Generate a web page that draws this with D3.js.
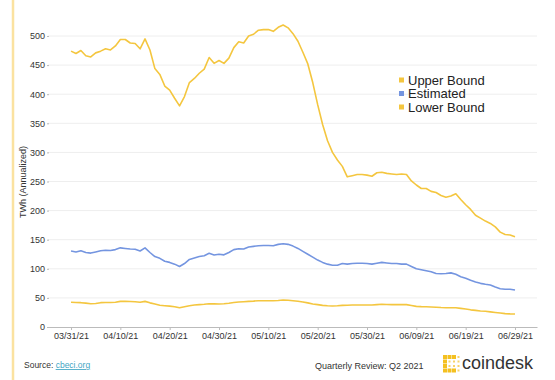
<!doctype html>
<html lang="en">
<head>
<meta charset="UTF-8">
<title>Bitcoin electricity consumption Q2 2021</title>
<style>
  body { margin: 0; background: #fff; font-family: "Liberation Sans", Arial, sans-serif; }
  svg { display: block; }
  .grid line { stroke: #eeeeee; stroke-width: 1; }
  .axis text { fill: #333; font-size: 9px; }
  .axis path, .axis line { stroke: #bbb; }
  .line { fill: none; stroke-width: 1.6px; stroke-linejoin: round; }
</style>
</head>
<body>
<svg width="555" height="380"></svg>
<script src="https://d3js.org/d3.v7.min.js"></script>
<script>
// daily values, 03/31/21 .. 06/29/21 (TWh annualized)
const upperBound = [474, 470, 475, 466, 464, 471, 474, 478, 476, 483,
  494, 494, 488, 487, 478, 495, 476, 444, 434, 414,
  407, 393, 380, 396, 420, 427, 436, 443, 463, 453,
  458, 453, 462, 480, 490, 488, 500, 503, 510, 511,
  511, 508, 515, 519, 514, 504, 491, 472, 452, 420,
  382, 348, 320, 300, 287, 276, 258, 260, 262, 262,
  261, 259, 265, 266, 264, 263, 262, 263, 262, 251,
  244, 238, 238, 233, 231, 226, 223, 225, 229, 219,
  210, 202, 192, 187, 182, 178, 172, 163, 159, 158, 155];
const estimated = [130.6, 129, 131, 128, 127, 129, 131, 132, 131.5, 133,
  136, 135, 134, 133.5, 130.6, 136, 128, 121, 118, 113,
  111, 108, 104, 109, 116, 118.5, 121, 122.5, 126.6, 123.7,
  125, 124, 128, 133, 134.5, 134, 137.5, 138.6, 139.7, 140,
  140, 139.7, 142, 143, 142, 139, 135, 130, 125, 120,
  115, 111, 108, 106, 106, 109, 108, 109, 109.5, 109.5,
  109, 108, 109.5, 111, 110, 109, 109, 108, 108, 104,
  100, 98.5, 96.7, 95, 92, 91.6, 92, 93, 90.5, 86.4,
  83.7, 80.2, 77.3, 75, 73.4, 72.2, 68.7, 65.8, 64.8, 64.8, 63.6];
const lowerBound = [42.4, 42, 41.8, 41, 40, 40.5, 41.8, 42, 42.2, 42.4,
  44, 44, 43.8, 43.5, 42.4, 44, 41.5, 39.5, 37.5, 36.6,
  35.8, 34.9, 33.2, 34.9, 36.5, 37.8, 38.5, 39, 40, 39.8,
  39.5, 40, 40.7, 42, 43, 43.5, 44, 44.5, 45.2, 45.2,
  45.2, 45.2, 45.5, 46.4, 46, 45.2, 44.2, 43, 41.5, 39.5,
  38.4, 37.2, 36.5, 36, 36.5, 37.2, 37.5, 37.8, 37.8, 37.8,
  37.8, 37.8, 38.5, 39, 38.7, 38.5, 38.5, 38.5, 38.5, 37,
  35.5, 35, 34.7, 34.4, 34, 33.5, 33.2, 33.2, 33.2, 32,
  30.8, 29.5, 28.5, 27.5, 27, 26, 25, 24, 23, 22.5, 22.3];
const startDate = new Date(2021, 2, 31);
const dates = upperBound.map((_, i) => d3.timeDay.offset(startDate, i));
const yTicks = [0, 50, 100, 150, 200, 250, 300, 350, 400, 450, 500];
const xTickDates = dates.filter((_, i) => i % 10 === 0);

const series = [
  { name: "Upper Bound", values: upperBound, color: "#f4c63f" },
  { name: "Estimated", values: estimated, color: "#7495e0" },
  { name: "Lower Bound", values: lowerBound, color: "#f4c63f" }
];

const svg = d3.select("svg");

// light yellow border on the left
svg.append("line")
  .attr("x1", 13).attr("x2", 13).attr("y1", 0).attr("y2", 380)
  .attr("stroke", "#fbe2a0").attr("stroke-width", 2.5);

const x = d3.scaleTime()
  .domain([new Date(2021, 2, 26, 8), new Date(2021, 6, 3, 11)])
  .range([48, 537]);
const y = d3.scaleLinear().domain([0, 500]).range([327, 36]);

// gridlines
svg.append("g").attr("class", "grid")
  .selectAll("line").data(yTicks.slice(1)).join("line")
  .attr("x1", 48).attr("x2", 537)
  .attr("y1", d => y(d)).attr("y2", d => y(d));

// y axis (labels and tiny ticks only)
const yAxis = svg.append("g").attr("class", "axis")
  .attr("transform", "translate(49,0)")
  .call(d3.axisLeft(y).tickValues(yTicks).tickSize(2).tickPadding(2));
yAxis.select(".domain").remove();
yAxis.selectAll("line").attr("stroke", "#ccc");

// x axis
const xAxis = svg.append("g").attr("class", "axis")
  .attr("transform", "translate(0,327)")
  .call(d3.axisBottom(x).tickValues(xTickDates)
    .tickFormat(d3.timeFormat("%m/%d/%y")).tickSize(3).tickPadding(3).tickSizeOuter(0));

svg.append("text")
  .attr("transform", "translate(26,182) rotate(-90)")
  .attr("text-anchor", "middle")
  .attr("font-size", 9).attr("fill", "#333")
  .text("TWh (Annualized)");

// lines
const line = d3.line()
  .x((d, i) => x(dates[i]))
  .y(d => y(d));

svg.append("g").selectAll("path").data(series).join("path")
  .attr("class", "line")
  .attr("stroke", d => d.color)
  .attr("d", d => line(d.values));

// legend
const legend = svg.append("g").attr("transform", "translate(399,80)");
const item = legend.selectAll("g").data(series).join("g")
  .attr("transform", (d, i) => `translate(0,${i * 13.5})`);
item.append("rect")
  .attr("x", 0).attr("y", -2.5).attr("width", 5).attr("height", 5)
  .attr("fill", d => d.color);
item.append("text")
  .attr("x", 9).attr("y", 4.6)
  .attr("font-size", 13).attr("fill", "#222")
  .text(d => d.name);

// footer
const src = svg.append("text")
  .attr("x", 24).attr("y", 368)
  .attr("font-size", 8.5).attr("fill", "#333");
src.append("tspan").text("Source: ");
src.append("tspan").attr("fill", "#3fa6c4")
  .attr("text-decoration", "underline").text("cbeci.org");

svg.append("text")
  .attr("x", 315).attr("y", 368.5)
  .attr("font-size", 9).attr("fill", "#333")
  .text("Quarterly Review: Q2 2021");

// coindesk logo
const logo = svg.append("g").attr("transform", "translate(443,355)");
const cells = [];
for (let r = 0; r < 4; r++) {
  for (let c = 0; c < 4; c++) {
    const solid = c === 0 || ((r === 0 || r === 3) && c < 3);
    cells.push({ r, c, solid });
  }
}
logo.selectAll("rect").data(cells).join("rect")
  .attr("x", d => d.c * 4.5 + (d.solid ? 0 : 1))
  .attr("y", d => d.r * 4.5 + (d.solid ? 0 : 1))
  .attr("width", d => d.solid ? 4 : 2)
  .attr("height", d => d.solid ? 4 : 2)
  .attr("fill", d => d.solid ? "#f4c020" : "#f7d36a");

svg.append("text")
  .attr("x", 462).attr("y", 369)
  .attr("font-size", 18).attr("fill", "#333")
  .attr("textLength", 71).attr("lengthAdjust", "spacingAndGlyphs")
  .text("coindesk");
</script>
</body>
</html>
